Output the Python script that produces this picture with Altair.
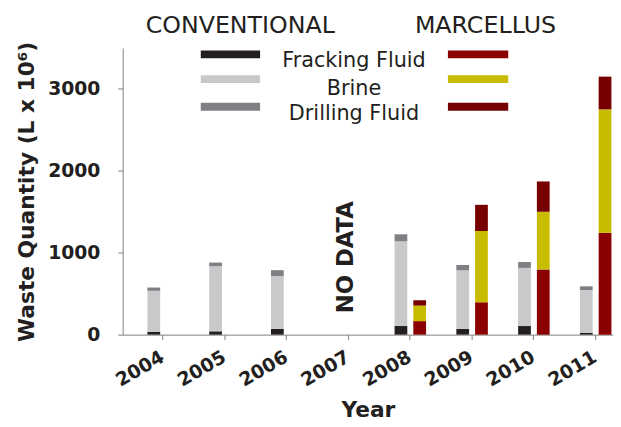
import altair as alt
import pandas as pd

# ---- data ----
all_years = ["2004", "2005", "2006", "2007", "2008", "2009", "2010", "2011"]
categories = ["Fracking Fluid", "Brine", "Drilling Fluid"]

conv_years = ["2004", "2005", "2006", "2008", "2009", "2010", "2011"]
conv_frack = [35, 40, 70, 105, 70, 105, 20]
conv_brine = [500, 795, 645, 1035, 715, 710, 525]
conv_drill = [40, 45, 72, 85, 65, 72, 45]

marc_years = ["2008", "2009", "2010", "2011"]
marc_frack = [165, 395, 795, 1245]
marc_brine = [190, 870, 705, 1505]
marc_drill = [65, 320, 370, 400]

y_ticks = [0, 1000, 2000, 3000]
no_data_year = ["2007"]
no_data_value = [945]

conv_colors = ["#231f20", "#c8c9cb", "#7f8083"]
marc_colors = ["#8b0000", "#c9bb00", "#760000"]

rows = []
for i, yr in enumerate(conv_years):
    for j, (cat, v) in enumerate(zip(categories, [conv_frack[i], conv_brine[i], conv_drill[i]])):
        rows.append({"year": yr, "type": "Conventional", "cat": cat, "key": "C-" + cat, "order": j, "value": v})
for i, yr in enumerate(marc_years):
    for j, (cat, v) in enumerate(zip(categories, [marc_frack[i], marc_brine[i], marc_drill[i]])):
        rows.append({"year": yr, "type": "Marcellus", "cat": cat, "key": "M-" + cat, "order": j, "value": v})
df = pd.DataFrame(rows)

keys = ["C-" + c for c in categories] + ["M-" + c for c in categories]
colors = conv_colors + marc_colors

FONT = "DejaVu Sans"
TXT = "#231f20"
AX = "#808080"
XT = "Year"
YT = "Waste Quantity (L x 10⁶)"

x_scale = alt.Scale(domain=all_years, paddingInner=0.49, paddingOuter=0.213, align=0.94)
y_scale = alt.Scale(domain=[0, 3500], nice=False)
x_axis = alt.Axis(title=XT)
y_axis = alt.Axis(title=YT, values=y_ticks, format="d")

bars = alt.Chart(df).mark_bar().encode(
    x=alt.X("year:N", scale=x_scale, axis=x_axis),
    xOffset=alt.XOffset("type:N", scale=alt.Scale(domain=["Conventional", "Marcellus"],
                                                  paddingInner=0.32, paddingOuter=0)),
    y=alt.Y("value:Q", stack="zero", scale=y_scale, axis=y_axis),
    color=alt.Color("key:N", scale=alt.Scale(domain=keys, range=colors), legend=None),
    order=alt.Order("order:Q", sort="ascending"),
)

nodata = alt.Chart(pd.DataFrame({"year": no_data_year, "value": no_data_value, "t": ["NO DATA"]})).mark_text(
    angle=270, align="center", baseline="middle", font=FONT, fontWeight="bold", fontSize=23, color=TXT, dy=-2
).encode(
    x=alt.X("year:N", axis=x_axis),
    y=alt.Y("value:Q", axis=y_axis),
    text="t:N",
)

dummy = pd.DataFrame({"a": [0]})
layers = [bars, nodata]

# group headings
for label, xc in [("CONVENTIONAL", 119), ("MARCELLUS", 367)]:
    layers.append(alt.Chart(dummy).mark_text(font=FONT, fontSize=24, color=TXT, align="center", baseline="middle").encode(
        x=alt.value(xc), y=alt.value(-22), text=alt.value(label)))

# legend swatches and labels
legend_y = [6.5, 31.5, 59.5]
label_y = [13.5, 41.5, 66.5]
for j, cat in enumerate(categories):
    layers.append(alt.Chart(dummy).mark_rule(strokeWidth=8, color=conv_colors[j]).encode(
        x=alt.value(79), x2=alt.value(139), y=alt.value(legend_y[j])))
    layers.append(alt.Chart(dummy).mark_rule(strokeWidth=8, color=marc_colors[j]).encode(
        x=alt.value(329), x2=alt.value(390), y=alt.value(legend_y[j])))
    layers.append(alt.Chart(dummy).mark_text(font=FONT, fontSize=21, color=TXT, align="center", baseline="middle").encode(
        x=alt.value(234), y=alt.value(label_y[j]), text=alt.value(cat)))

chart = alt.layer(*layers).properties(
    width=496, height=290,
    autosize=alt.AutoSizeParams(type="none"),
    padding={"left": 116, "top": 38, "right": 0, "bottom": 90},
).configure_view(stroke=None).configure_axis(
    grid=False, tickSize=5, tickColor=AX, domainColor=AX,
    labelFont=FONT, labelFontWeight="bold", labelFontSize=19, labelColor=TXT,
    titleFont=FONT, titleFontWeight="bold", titleColor=TXT,
).configure_axisY(
    labelPadding=18, titleFontSize=22, titlePadding=9,
).configure_axisX(
    labelAngle=330, labelAlign="right", labelBaseline="top", labelPadding=8, labelOffset=-5,
    titleFontSize=22, titleY=88, titleBaseline="bottom",
)

chart.save("out.html", embed_options={"renderer": "svg", "actions": False})
